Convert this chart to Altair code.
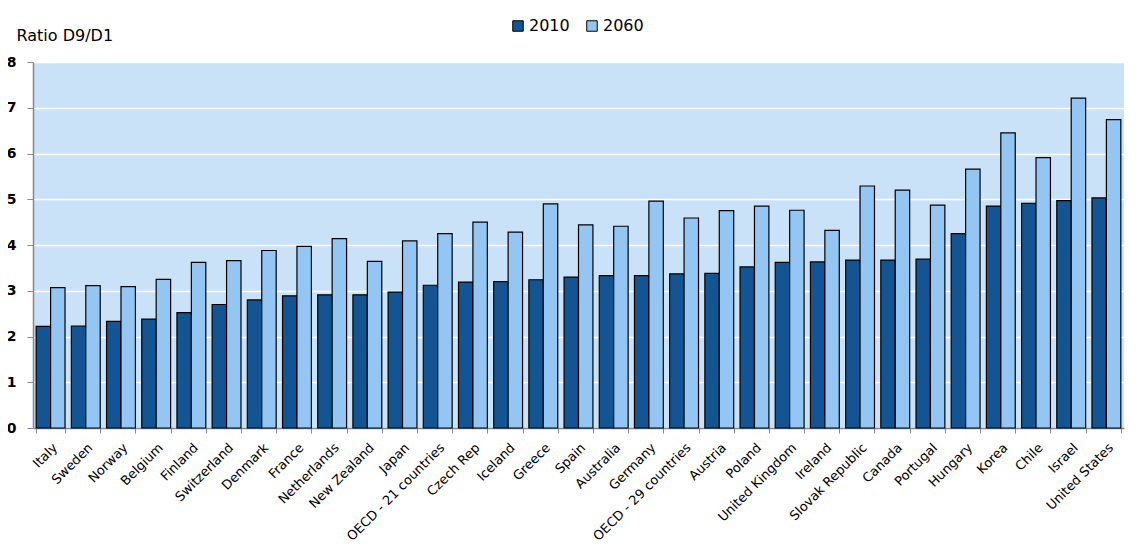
import altair as alt
import pandas as pd

countries = [
    "Italy", "Sweden", "Norway", "Belgium", "Finland", "Switzerland", "Denmark",
    "France", "Netherlands", "New Zealand", "Japan", "OECD - 21 countries",
    "Czech Rep", "Iceland", "Greece", "Spain", "Australia", "Germany",
    "OECD - 29 countries", "Austria", "Poland", "United Kingdom", "Ireland",
    "Slovak Republic", "Canada", "Portugal", "Hungary", "Korea", "Chile",
    "Israel", "United States",
]
values_2010 = [
    2.22, 2.23, 2.33, 2.38, 2.52, 2.70, 2.80, 2.89, 2.91, 2.91, 2.97, 3.12,
    3.19, 3.20, 3.24, 3.30, 3.33, 3.33, 3.37, 3.38, 3.52, 3.62, 3.63, 3.67,
    3.67, 3.69, 4.25, 4.85, 4.91, 4.97, 5.03,
]
values_2060 = [
    3.07, 3.11, 3.09, 3.25, 3.62, 3.66, 3.88, 3.97, 4.14, 3.64, 4.09, 4.25,
    4.50, 4.28, 4.90, 4.44, 4.41, 4.96, 4.59, 4.75, 4.85, 4.76, 4.32, 5.29,
    5.20, 4.87, 5.66, 6.45, 5.91, 7.21, 6.74,
]
years = ["2010", "2060"]
y_ticks = [0, 1, 2, 3, 4, 5, 6, 7, 8]

rows = []
for c, a, b in zip(countries, values_2010, values_2060):
    rows.append({"country": c, "year": years[0], "value": a})
    rows.append({"country": c, "year": years[1], "value": b})
df = pd.DataFrame(rows)

FONT = "DejaVu Sans"
DARK = "#135493"
LIGHT = "#94C6F4"
BG = "#CAE2F8"
GREY = "#888888"

chart = alt.Chart(df).mark_bar(stroke="black", strokeWidth=1.2).encode(
    x=alt.X(
        "country:N",
        sort=countries,
        scale=alt.Scale(paddingInner=0.18, paddingOuter=0.09),
        axis=alt.Axis(
            title=None,
            labelAngle=-45,
            labelAlign="right",
            labelBaseline="top",
            labelFont=FONT,
            labelFontSize=13,
            labelColor="black",
            labelPadding=8,
            tickBand="extent",
            ticks=True,
            tickSize=5,
            tickColor=GREY,
            domainColor=GREY,
            domainWidth=1.5,
            grid=False,
        ),
    ),
    xOffset=alt.XOffset("year:N", sort=years, scale=alt.Scale(paddingInner=0, paddingOuter=0)),
    y=alt.Y(
        "value:Q",
        scale=alt.Scale(domain=[0, 8], nice=False),
        axis=alt.Axis(
            values=y_ticks,
            title="Ratio D9/D1",
            titleAngle=0,
            titleX=-17,
            titleY=-22,
            titleAlign="left",
            titleBaseline="alphabetic",
            titleFont=FONT,
            titleFontSize=16,
            titleFontWeight="normal",
            titleColor="black",
            labelFont=FONT,
            labelFontSize=14,
            labelFontWeight="bold",
            labelColor="black",
            labelPadding=11,
            tickSize=6,
            tickColor=GREY,
            domainColor=GREY,
            domainWidth=1.5,
            grid=True,
            gridColor="white",
            gridWidth=1.5,
        ),
    ),
    color=alt.Color(
        "year:N",
        scale=alt.Scale(domain=years, range=[DARK, LIGHT]),
        legend=alt.Legend(
            title=None,
            orient="none",
            legendX=477,
            legendY=-44,
            direction="horizontal",
            symbolType="square",
            symbolSize=110,
            symbolStrokeColor="black",
            symbolStrokeWidth=1,
            symbolOpacity=1,
            labelFont=FONT,
            labelFontSize=16,
            labelColor="black",
            labelOffset=3,
            columnPadding=14,
        ),
    ),
).properties(
    width=1091,
    height=366,
    autosize=alt.AutoSizeParams(type="none"),
    padding={"left": 25, "top": 54, "right": 10, "bottom": 121},
).configure_view(fill=BG, stroke=None)

chart.save("out.html", embed_options={"renderer": "svg", "actions": False})
